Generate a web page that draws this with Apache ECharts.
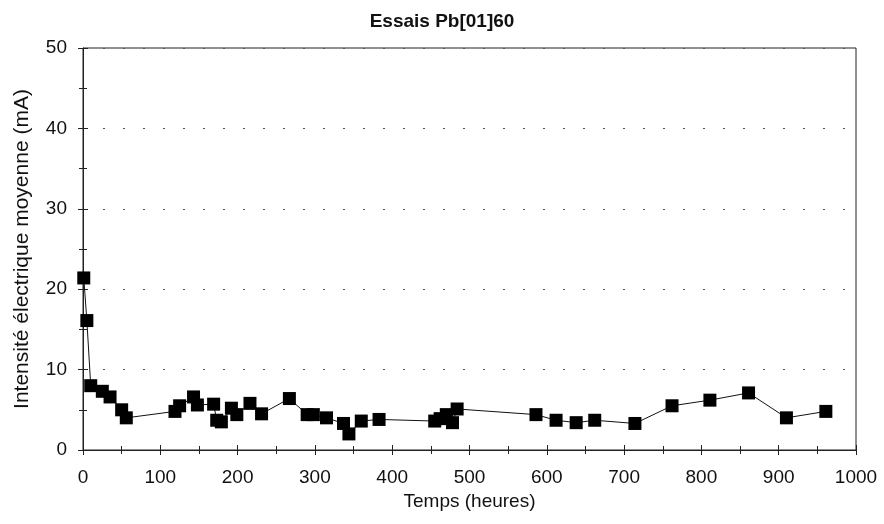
<!DOCTYPE html>
<html><head><meta charset="utf-8">
<script src="https://cdn.jsdelivr.net/npm/echarts@6/dist/echarts.min.js"></script>
<style>html,body{margin:0;padding:0;background:#fff}#c{width:884px;height:524px}</style>
</head><body><div id="c"></div>
<script>
const titleText = 'Essais Pb[01]60';
const xName = 'Temps (heures)';
const yName = 'Intensité électrique moyenne (mA)';
const hours = [1, 5, 10, 25, 35, 50, 56, 119, 125, 143, 148, 169, 173, 179, 192, 199, 216, 231, 267, 290, 298, 315, 337, 344, 360, 383, 455, 462, 470, 478, 484, 586, 612, 638, 662, 714, 762, 811, 861, 910, 961];
const current = [21.4, 16.1, 8.0, 7.3, 6.6, 5.0, 4.0, 4.8, 5.5, 6.6, 5.6, 5.7, 3.7, 3.5, 5.2, 4.4, 5.8, 4.5, 6.4, 4.4, 4.4, 4.0, 3.3, 2.0, 3.6, 3.8, 3.6, 3.9, 4.4, 3.4, 5.1, 4.4, 3.7, 3.4, 3.7, 3.3, 5.5, 6.2, 7.1, 4.0, 4.8];

const chart = echarts.init(document.getElementById('c'));
const font = 'Liberation Sans, Arial, sans-serif';
const pts = hours.map((h, i) => [h, current[i]]);
chart.setOption({
  animation: false,
  title: {text: titleText, left: 'center', top: 7, textStyle: {fontFamily: font, fontSize: 19, fontWeight: 'bold', color: '#111'}},
  grid: {left: 83, right: 28, top: 48, bottom: 74, show: true, borderColor: '#222', borderWidth: 1},
  xAxis: [{
    type: 'value', min: 0, max: 1000, interval: 100,
    name: xName, nameLocation: 'middle', nameGap: 40,
    nameTextStyle: {fontFamily: font, fontSize: 19, color: '#111'},
    axisLine: {lineStyle: {color: '#222', width: 1}},
    axisTick: {show: true, length: 5, lineStyle: {color: '#222'}},
    minorTick: {show: true, splitNumber: 2, length: 4, lineStyle: {color: '#222'}},
    axisLabel: {fontFamily: font, fontSize: 19, color: '#111', margin: 18, formatter: v => String(v)},
    splitLine: {show: false}
  }, {
    type: 'value', min: 0, max: 1000, interval: 100, position: 'bottom',
    axisLine: {show: false},
    axisTick: {show: true, inside: true, length: 5, lineStyle: {color: '#222'}},
    minorTick: {show: true, splitNumber: 2, length: 4, lineStyle: {color: '#222'}},
    axisLabel: {show: false}, splitLine: {show: false}
  }],
  yAxis: [{
    type: 'value', min: 0, max: 50, interval: 10,
    name: yName, nameLocation: 'middle', nameGap: 50,
    nameTextStyle: {fontFamily: font, fontSize: 21, color: '#111'},
    axisLine: {show: true, lineStyle: {color: '#222', width: 1}},
    axisTick: {show: true, length: 5, lineStyle: {color: '#222'}},
    minorTick: {show: true, splitNumber: 2, length: 4, lineStyle: {color: '#222'}},
    axisLabel: {fontFamily: font, fontSize: 19, color: '#111', margin: 16},
    splitLine: {show: true, lineStyle: {color: '#555', width: 1.2, type: [2, 18]}}
  }, {
    type: 'value', min: 0, max: 50, interval: 10, position: 'left',
    axisLine: {show: false},
    axisTick: {show: true, inside: true, length: 5, lineStyle: {color: '#222'}},
    minorTick: {show: true, splitNumber: 2, length: 4, lineStyle: {color: '#222'}},
    axisLabel: {show: false}, splitLine: {show: false}
  }],
  series: [{
    type: 'line', data: pts, xAxisIndex: 0, yAxisIndex: 0,
    symbol: 'rect', symbolSize: 13,
    itemStyle: {color: '#000'},
    lineStyle: {color: '#111', width: 1}
  }]
});
</script></body></html>
